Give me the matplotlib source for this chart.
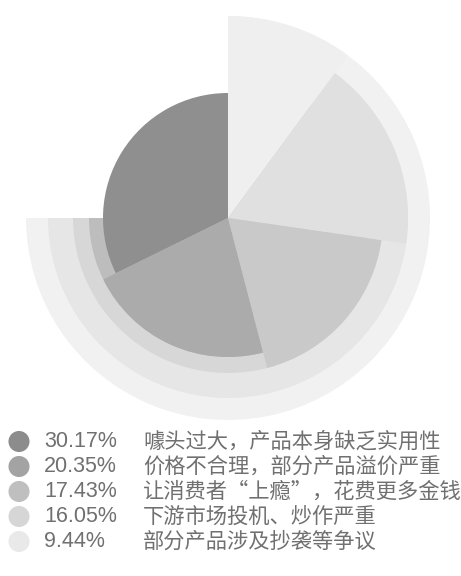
import numpy as np
import matplotlib
matplotlib.use("Agg")
import matplotlib.pyplot as plt

plt.rcParams['font.family'] = ['Noto Sans CJK SC', 'DejaVu Sans']

# ---- data ----
values = [30.17, 20.35, 17.43, 16.05, 9.44]
pct_labels = ["30.17%", "20.35%", "17.43%", "16.05%", "9.44%"]
categories = ["噱头过大，产品本身缺乏实用性",
              "价格不合理，部分产品溢价严重",
              "让消费者“上瘾”，花费更多金钱",
              "下游市场投机、炒作严重",
              "部分产品涉及抄袭等争议"]

# ---- style ----
radii = [125, 139, 155, 180, 202]            # rank-based radius (px)
sector_colors = ['#8f8f8f', '#ababab', '#c9c9c9', '#e0e0e0', '#efefef']
bg_colors = ['#8f8f8f', '#bdbdbd', '#d7d7d7', '#e6e6e6', '#f1f1f1']
legend_colors = ['#8c8c8c', '#a3a3a3', '#bfbfbf', '#d6d6d6', '#e9e9e9']
text_color = '#707070'

W, H = 461, 576
fig = plt.figure(figsize=(W / 100, H / 100), dpi=100)

cx, cy, R = 228, 218, 203
ax = fig.add_axes([(cx - R) / W, (H - cy - R) / H, 2 * R / W, 2 * R / H],
                  projection='polar')
ax.set_theta_zero_location('N')
ax.set_theta_direction(1)
ax.set_ylim(0, R)
ax.set_axis_off()

# background three-quarter layers (from west, counter-clockwise to north)
for i in range(len(values) - 1, 0, -1):
    ax.bar(np.pi / 2, radii[i], width=1.5 * np.pi, bottom=0, align='edge',
           color=bg_colors[i], edgecolor='none', zorder=1)

# pie-like sectors, angle proportional to value
frac = np.array(values) / np.sum(values)
widths = frac * 2 * np.pi
starts = np.concatenate([[0], np.cumsum(widths)[:-1]])
for i in range(len(values)):
    ax.bar(starts[i], radii[i], width=widths[i], bottom=0, align='edge',
           color=sector_colors[i], edgecolor='none', zorder=2 + i)

# legend
lax = fig.add_axes([0, 0, 1, 1])
lax.set_xlim(0, W)
lax.set_ylim(H, 0)
lax.set_axis_off()
rows_y = [441.5, 466.5, 491.5, 516.5, 541.5]
for i in range(len(values)):
    lax.scatter([19], [rows_y[i]], s=230, color=legend_colors[i],
                edgecolor='none')
    lax.text(44, rows_y[i], pct_labels[i], fontsize=15.5, color=text_color,
             va='center', ha='left', family=['Liberation Sans', 'DejaVu Sans'])
    lax.text(143, rows_y[i], categories[i], fontsize=15.3, color=text_color,
             va='center', ha='left')

fig.savefig('out.png', dpi=100)
